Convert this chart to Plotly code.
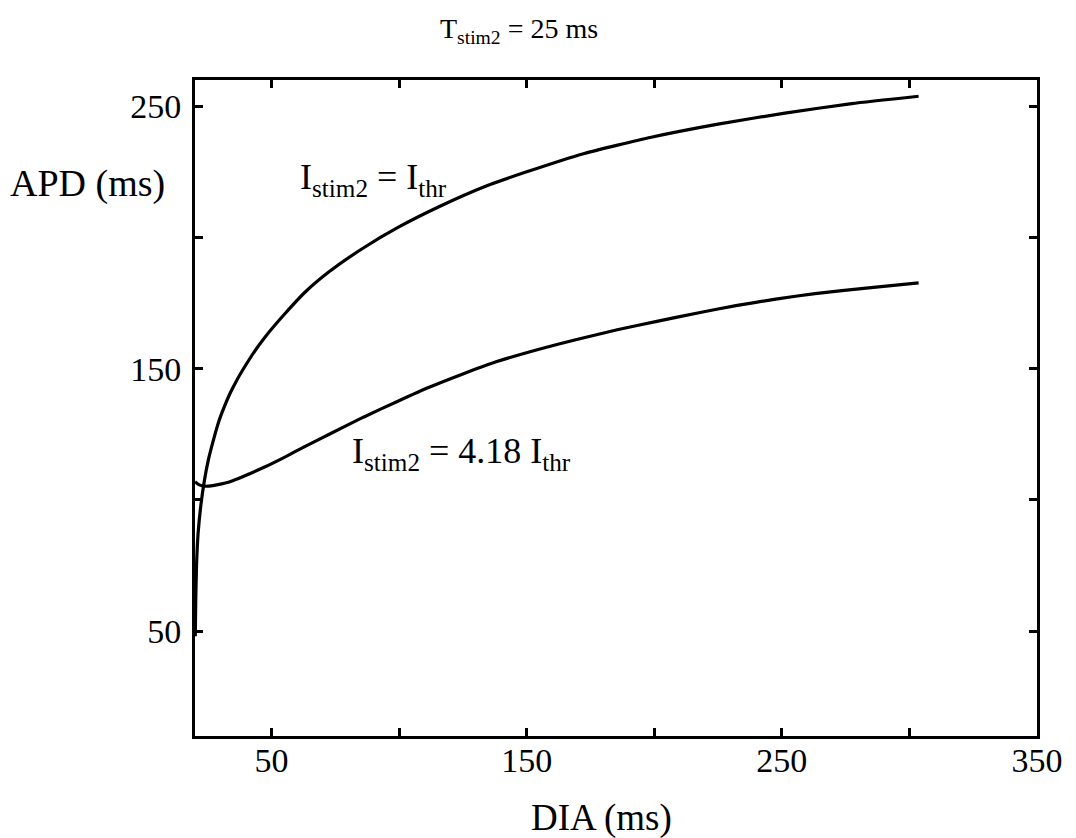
import plotly.graph_objects as go

# Upper curve: I_stim2 = I_thr
dia_thr = [20.1, 20.3, 20.6, 21.2, 22.3, 23.7, 25.3, 27, 29.2, 31.5, 33.8, 36.5, 39.6,
           43.5, 47.5, 55.4, 63.2, 72.4, 85.5, 99.9, 115.6, 133.9, 150, 172.6, 198.8,
           225, 251.2, 277.4, 303.6]
apd_thr = [48, 62, 75, 87, 98, 107.5, 115.5, 122, 129.5, 135.5, 140.7, 145.8, 150.9,
           156.8, 162.1, 171.1, 179.2, 186.8, 195.7, 204, 211.7, 219.5, 225, 232, 238.2,
           243.2, 247.4, 251, 253.8]

# Lower curve: I_stim2 = 4.18 I_thr
dia_418 = [20, 21.5, 23, 25, 28, 31.5, 35, 40, 47.5, 55.4, 63, 73, 86, 99.5, 112, 125,
           138, 154.5, 170, 185.5, 201, 218, 232, 247.6, 263, 284, 303.6]
apd_418 = [106.9, 105.8, 105.3, 105.2, 105.6, 106.3, 107.4, 109.4, 112.6, 116.4, 120.3,
           125.2, 131.5, 137.6, 143, 148, 152.6, 157.3, 161.2, 164.8, 168, 171.4, 174,
           176.5, 178.6, 180.8, 182.7]

x_tickvals = [50, 100, 150, 200, 250, 300, 350]
x_ticktext = ["50", "", "150", "", "250", "", "350"]
y_tickvals = [50, 100, 150, 200, 250]
y_ticktext = ["50", "", "150", "", "250"]

FONT = "Liberation Serif, Times New Roman, serif"

fig = go.Figure()
for xs, ys in ((dia_thr, apd_thr), (dia_418, apd_418)):
    fig.add_trace(go.Scatter(x=xs, y=ys, mode="lines",
                             line=dict(color="black", width=3.2, shape="spline", smoothing=0.5),
                             showlegend=False))

axis_common = dict(showgrid=False, zeroline=False, showline=True, linecolor="black",
                   linewidth=3, mirror="ticks", ticks="inside", ticklen=8, tickwidth=2.5,
                   tickcolor="black", tickfont=dict(family=FONT, size=34, color="black"))

fig.update_xaxes(range=[20, 350], tickmode="array", tickvals=x_tickvals,
                 ticktext=x_ticktext, ticklabelstandoff=-8, **axis_common)
fig.update_yaxes(range=[10, 260], tickmode="array", tickvals=y_tickvals,
                 ticktext=y_ticktext, ticklabelstandoff=4, **axis_common)

annots = [
    dict(text="T<sub>stim2</sub> = 25 ms", xref="paper", yref="paper",
         x=(519 - 195) / 842, y=(736 - 30) / 656, xanchor="center", yanchor="middle",
         font=dict(family=FONT, size=28, color="black"), showarrow=False),
    dict(text="APD (ms)", xref="paper", yref="paper",
         x=(8 - 195) / 842, y=(736 - 183) / 656, xanchor="left", yanchor="middle",
         font=dict(family=FONT, size=38, color="black"), showarrow=False),
    dict(text="DIA (ms)", xref="paper", yref="paper",
         x=(601 - 195) / 842, y=(736 - 818) / 656, xanchor="center", yanchor="middle",
         font=dict(family=FONT, size=37, color="black"), showarrow=False),
    dict(text="I<sub>stim2</sub> = I<sub>thr</sub>", xref="x", yref="y",
         x=60.5, y=222, xanchor="left", yanchor="middle",
         font=dict(family=FONT, size=36, color="black"), showarrow=False),
    dict(text="I<sub>stim2</sub> = 4.18 I<sub>thr</sub>", xref="x", yref="y",
         x=80.9, y=117.5, xanchor="left", yanchor="middle",
         font=dict(family=FONT, size=36, color="black"), showarrow=False),
]

fig.update_layout(width=1076, height=838, plot_bgcolor="white", paper_bgcolor="white",
                  margin=dict(l=195, r=39, t=80, b=102), annotations=annots,
                  font=dict(family=FONT, color="black"))

fig.write_html("out.html")
